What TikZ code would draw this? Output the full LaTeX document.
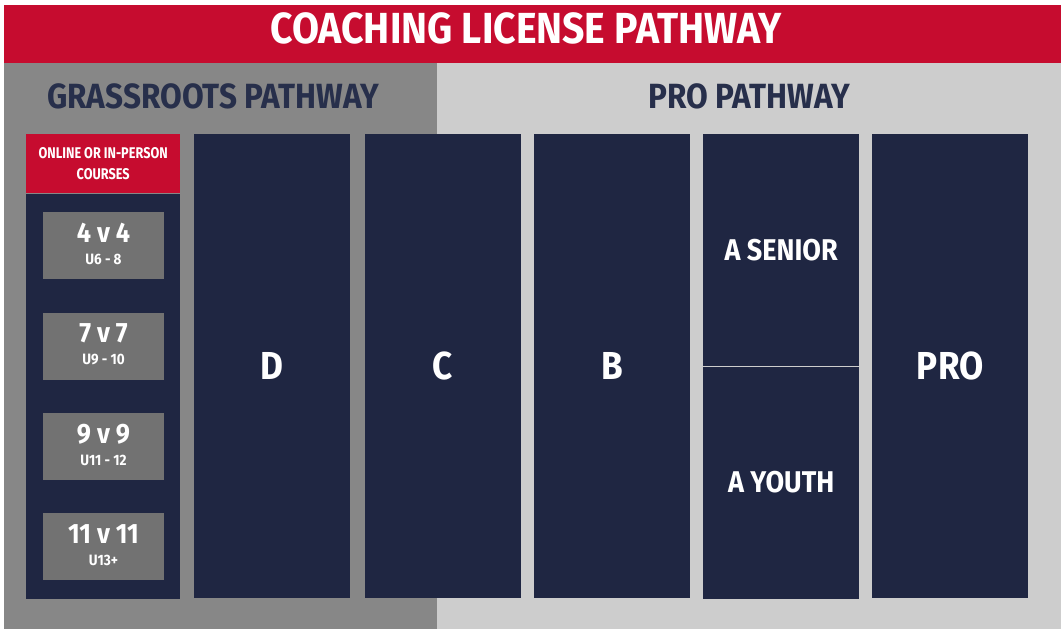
\documentclass[tikz,border=0pt]{standalone}
\usepackage{fontspec}
\newfontfamily\pathfont[FakeStretch=0.82]{Fira Sans}
\newfontfamily\widefont[FakeStretch=0.9]{Fira Sans}
\usetikzlibrary{positioning}
\definecolor{licred}{HTML}{C60C2F}
\definecolor{navy}{HTML}{1F2642}
\definecolor{darkgrey}{HTML}{878787}
\definecolor{lightgrey}{HTML}{CDCDCD}
\definecolor{tilegrey}{HTML}{727272}
\definecolor{headnavy}{HTML}{272F4B}
\newcommand{\fsz}[1]{\fontsize{#1}{#1}\selectfont}
\tikzset{
  tier/.style={fill=navy, inner sep=0pt, minimum width=156pt, minimum height=464pt,
    text=white, font=\widefont\bfseries\fsz{39}},
  halftier/.style={fill=navy, inner sep=0pt, minimum width=156pt, minimum height=232pt,
    text=white, font=\widefont\bfseries\fsz{30}},
  agetile/.style={fill=tilegrey, inner sep=0pt, minimum width=121pt, minimum height=67pt,
    text=white, align=center, font=\widefont\bfseries},
  banner/.style={text=white, font=\widefont\bfseries\fsz{43.5}},
  pathhead/.style={text=headnavy, font=\widefont\bfseries\fsz{35}}
}
\begin{document}
\begin{tikzpicture}[x=1pt, y=-1pt]
  \useasboundingbox (0,0) rectangle (1061,629);
  % background bands
  \fill[white] (0,0) rectangle (1061,629);
  \fill[licred] (4,5) rectangle (1061,63);
  \fill[darkgrey] (4,63) rectangle (437,629);
  \fill[lightgrey] (437,63) rectangle (1061,629);
  \node[banner] (title) at (526,28) {COACHING LICENSE PATHWAY};
  \node[pathhead] (grass) at (213,96) {GRASSROOTS PATHWAY};
  \node[pathhead] (pro) at (749,96) {PRO PATHWAY};

  % grassroots column
  \node[fill=licred, inner sep=0pt, minimum width=154pt, minimum height=59pt, anchor=north west,
    text=white, align=center, font=\pathfont\bfseries\fsz{15.5}] (online) at (26,134)
    {ONLINE OR IN-PERSON\\[6pt]COURSES};
  \node[fill=navy, inner sep=0pt, minimum width=154pt, minimum height=405pt, below=0pt of online] (grassbody) {};
  \node[agetile, anchor=north] (t4) at (103.5,212) {{\fsz{28}4 v 4}\\[10pt]{\fsz{15}U6 - 8}\\[-8pt]};
  \node[agetile, below=33pt of t4] (t7) {{\fsz{28}7 v 7}\\[10pt]{\fsz{15}U9 - 10}\\[-8pt]};
  \node[agetile, below=33pt of t7] (t9) {{\fsz{28}9 v 9}\\[10pt]{\fsz{15}U11 - 12}\\[-8pt]};
  \node[agetile, below=33pt of t9] (t11) {{\fsz{28}11 v 11}\\[10pt]{\fsz{15}U13+}\\[-8pt]};

  % licence tiers
  \node[tier, anchor=north west] (d) at (194,134) {D};
  \node[tier, right=14pt of d] (c) {C};
  \node[tier, right=13pt of c] (b) {B};
  \node[halftier, anchor=north west] (asenior) at (703,134) {A SENIOR};
  \node[halftier, below=0pt of asenior] (ayouth) {A YOUTH};
  \node[tier, anchor=north west] (prolic) at (872,134) {PRO};
  \draw[lightgrey, line width=1.2pt] (asenior.south west) -- (asenior.south east);
\end{tikzpicture}
\end{document}
